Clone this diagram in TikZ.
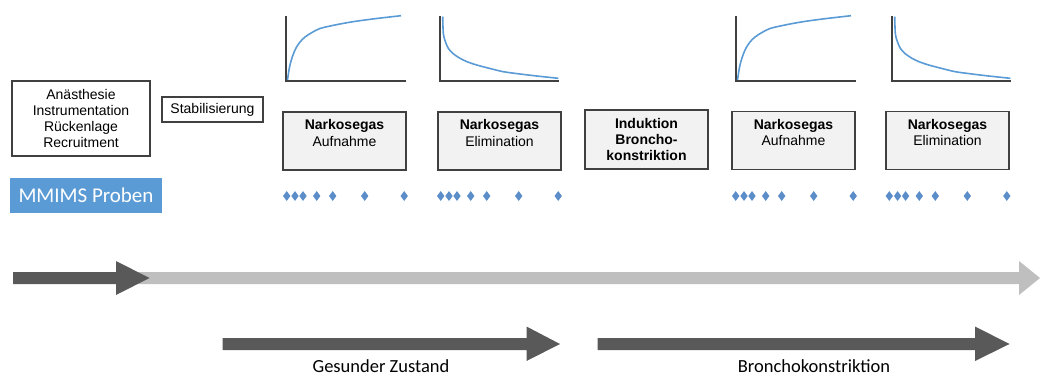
\documentclass[tikz,border=0pt]{standalone}
\usepackage{fontspec}
\setmainfont{Liberation Sans}
\newfontfamily\calibrifont{Carlito}
\usetikzlibrary{shapes.geometric}
\definecolor{boxedge}{HTML}{404040}
\definecolor{phasegray}{HTML}{F2F2F2}
\definecolor{mmblue}{HTML}{5B9BD5}
\definecolor{dotblue}{HTML}{5B8DC8}
\definecolor{curveblue}{HTML}{5B9BD5}
\definecolor{arrowdark}{HTML}{595959}
\definecolor{arrowlight}{HTML}{BFBFBF}

\begin{document}
\begin{tikzpicture}[
    x=1pt, y=-1pt,
    % Node styles
    boxtext/.style={font=\fontsize{14}{16.3}\selectfont, align=center},
    plainbox/.style={boxtext, rectangle, draw=boxedge, line width=1.1pt, fill=white, inner sep=0pt},
    phasebox/.style={plainbox, fill=phasegray, minimum width=123, minimum height=58},
    samplebox/.style={rectangle, fill=mmblue, text=white, font=\calibrifont\fontsize{21}{24}\selectfont, minimum width=152, minimum height=35, inner sep=0pt},
    sampledot/.style={diamond, fill=dotblue, minimum width=7.5, minimum height=10, inner sep=0pt},
    axisline/.style={draw=boxedge, line width=1.3pt},
    curve/.style={draw=curveblue, line width=1.6pt, smooth},
    phaselabel/.style={font=\calibrifont\fontsize{18.5}{20}\selectfont, inner sep=0pt},
]
\useasboundingbox (0,0) rectangle (1041,378);

% ============================================================================
% PREPARATION
% ============================================================================
\node[plainbox, minimum width=138, minimum height=75] (prep) at (81,118.5)
    {Anästhesie\\Instrumentation\\Rückenlage\\Recruitment};
\node[plainbox, minimum width=101, minimum height=25] (stab) at (212.5,109.5) {Stabilisierung};
\node[samplebox] (mmims) at (86,195.5) {MMIMS Proben};

% ============================================================================
% PHASES
% ============================================================================
\node[phasebox] (upA) at (344.5,141) {\textbf{Narkosegas}\\Aufnahme\\~};
\node[phasebox] (elA) at (499.5,141) {\textbf{Narkosegas}\\Elimination\\~};
\node[phasebox, minimum height=59] (ind) at (646.5,139.5) {\textbf{Induktion}\\\textbf{Broncho-}\\\textbf{konstriktion}};
\node[phasebox] (upB) at (793.5,140.5) {\textbf{Narkosegas}\\Aufnahme\\~};
\node[phasebox] (elB) at (947.5,140.5) {\textbf{Narkosegas}\\Elimination\\~};

% Uptake and elimination curves
\foreach \sx in {0, 450} {
  \begin{scope}[xshift=\sx]
    \draw[axisline] (286,16) -- (286,81) -- (406,81);
    \draw[curve] plot coordinates {(287.5,80) (289,70) (290.5,63) (293,55) (296,48) (300,42)
        (305,37) (312,32.5) (320,28.5) (335,25) (353,21.7) (375,18.7) (401,15.7)};
  \end{scope}
}
\foreach \sx in {0, 452} {
  \begin{scope}[xshift=\sx]
    \draw[axisline] (440,16) -- (440,81) -- (559,81);
    \draw[curve] plot coordinates {(442.7,16.7) (443.3,33.3) (445,40.5) (448.3,48.3) (453,53.5)
        (460,58.3) (467,61.7) (476.7,65) (490,68.5) (503.3,71.7) (520,74) (536.7,76) (558.3,78.3)};
  \end{scope}
}

% Sampling points
\foreach \gx in {286.7, 440.7, 735.7, 889.3} {
  \foreach \dx in {0, 8.3, 16.3, 30, 46, 78, 117.5} {
    \node[sampledot] at (\gx+\dx,196) {};
  }
}

% ============================================================================
% TIME ARROWS
% ============================================================================
\fill[arrowlight] (120,272) -- (1019,272) -- (1019,261) -- (1040,278) -- (1019,295) -- (1019,284) -- (120,284) -- cycle;
\fill[arrowdark] (13,272) -- (116,272) -- (116,261) -- (149.5,278) -- (116,295) -- (116,284) -- (13,284) -- cycle;

\fill[arrowdark] (222.5,338) -- (526.5,338) -- (526.5,326.5) -- (560,344) -- (526.5,361) -- (526.5,350) -- (222.5,350) -- cycle;
\fill[arrowdark] (597.5,338) -- (975,338) -- (975,326.5) -- (1009.5,344) -- (975,361) -- (975,350) -- (597.5,350) -- cycle;

\node[phaselabel] (healthy) at (381,366) {Gesunder Zustand};
\node[phaselabel] (broncho) at (814,366) {Bronchokonstriktion};

\end{tikzpicture}
\end{document}
